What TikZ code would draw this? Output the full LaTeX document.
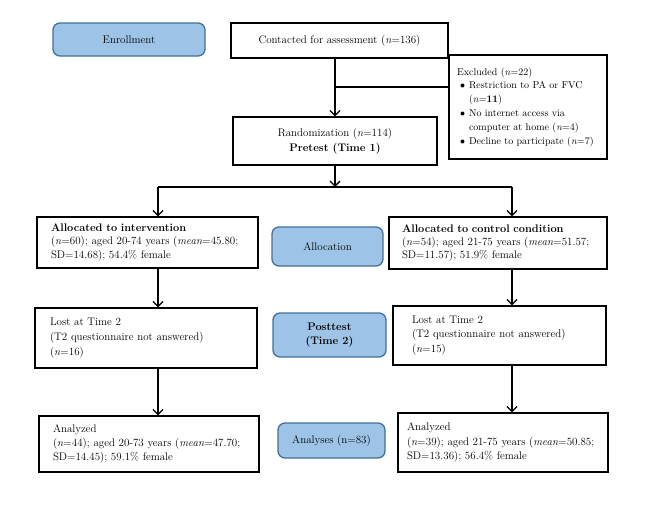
\documentclass[tikz,border=0pt]{standalone}
\usepackage{tikz}
\usetikzlibrary{arrows.meta,positioning}

\definecolor{phasefill}{RGB}{157,195,230}
\definecolor{phaseline}{RGB}{65,113,156}
\newcommand{\boxfont}{\fontsize{11}{13.2}\selectfont}
\newcommand{\exfont}{\fontsize{10}{13.8}\selectfont}
\newcommand{\bul}[1]{\mbox{\makebox[12pt][l]{\hspace{3pt}$\bullet$}#1}}
\newcommand{\ind}[1]{\mbox{\hspace*{12pt}#1}}

\begin{document}
\begin{tikzpicture}[x=1pt,y=-1pt,
	box/.style={draw, line width=1.3pt, inner xsep=14pt, inner ysep=0pt, align=left, font=\boxfont},
	mid/.style={draw, line width=1.3pt, inner sep=0pt, align=center, font=\boxfont},
	phase/.style={draw=phaseline, fill=phasefill, line width=1.3pt, rounded corners=7pt, inner sep=0pt, align=center, font=\boxfont},
	link/.style={line width=1.3pt},
	arr/.style={link, -{Straight Barb[length=5pt,width=10pt]}}]
	\useasboundingbox (0,0) rectangle (656,525);
	% phase labels
	\node[phase, minimum width=152pt, minimum height=33pt] (enroll) at (129,39.5) {Enrollment};
	\node[phase, minimum width=111pt, minimum height=39pt] (alloc) at (327.5,246.5) {Allocation};
	\node[phase, minimum width=113pt, minimum height=44pt] (post) at (329.5,335) {\textbf{Posttest}\\[1pt]\textbf{(Time 2)}};
	\node[phase, minimum width=107pt, minimum height=35pt] (anal) at (331.5,440.5) {Analyses (n=83)};
	% enrollment
	\node[mid, minimum width=217pt, minimum height=35pt] (contact) at (339.5,40.5) {Contacted for assessment (\textit{n}=136)};
	\node[box, inner xsep=8pt, text width=142pt, minimum height=104pt, font=\exfont] (excl) at (528,107) {Excluded (\textit{n}=22)\\
		\bul{Restriction to PA or FVC}\\
		\ind{(\textit{n}=\textbf{11})}\\
		\bul{No internet access via}\\
		\ind{computer at home (\textit{n}=4)}\\
		\bul{Decline to participate (\textit{n}=7)}};
	\node[mid, minimum width=204pt, minimum height=48pt] (rand) at (335,141) {Randomization (\textit{n}=114)\\[2pt]\textbf{Pretest (Time 1)}};
	% intervention arm
	\node[box, text width=193pt, minimum height=51pt] (allocI) at (147.5,242.5) {\textbf{Allocated to intervention}\\
		(\textit{n}=60); aged 20-74 years (\textit{mean}=45.80;\\SD=14.68); 54.4\% female};
	\node[box, inner xsep=15pt, text width=192pt, minimum height=60pt] (lostI) at (146,338) {Lost at Time 2\\[1.5pt]
		(T2 questionnaire not answered)\\[1.5pt](\textit{n}=16)};
	\node[box, text width=192pt, minimum height=56pt] (anaI) at (149,444) {Analyzed\\[1pt]
		(\textit{n}=44); aged 20-73 years (\textit{mean}=47.70;\\[1pt]SD=14.45); 59.1\% female};
	% control arm
	\node[box, inner xsep=13pt, text width=192pt, minimum height=52pt] (allocC) at (498,243) {\textbf{Allocated to control condition}\\
		(\textit{n}=54); aged 21-75 years (\textit{mean}=51.57;\\SD=11.57); 51.9\% female};
	\node[box, inner xsep=19pt, text width=175pt, minimum height=59pt] (lostC) at (499.5,335.5) {Lost at Time 2\\[1.5pt]
		(T2 questionnaire not answered)\\[1.5pt](\textit{n}=15)};
	\node[box, inner xsep=9pt, text width=192pt, minimum height=59pt] (anaC) at (503,442.5) {Analyzed\\[1pt]
		(\textit{n}=39); aged 21-75 years (\textit{mean}=50.85;\\[1pt]SD=13.36); 56.4\% female};
	% connectors
	\coordinate (brk) at (335,87);
	\coordinate (split) at (335,187);
	\coordinate (splitL) at (158,187);
	\coordinate (splitR) at (512,187);
	\draw[arr] (contact.south -| rand.north) -- (rand.north);
	\draw[link] (brk) -- (brk -| excl.west);
	\draw[arr] (rand.south) -- (split);
	\draw[link] (splitL) -- (splitR);
	\draw[arr] (splitL) -- (allocI.north -| splitL);
	\draw[arr] (splitR) -- (allocC.north -| splitR);
	\draw[arr] (allocI.south -| splitL) -- (lostI.north -| splitL);
	\draw[arr] (lostI.south -| splitL) -- (anaI.north -| splitL);
	\draw[arr] (allocC.south -| splitR) -- (lostC.north -| splitR);
	\draw[arr] (lostC.south -| splitR) -- (anaC.north -| splitR);
\end{tikzpicture}
\end{document}
